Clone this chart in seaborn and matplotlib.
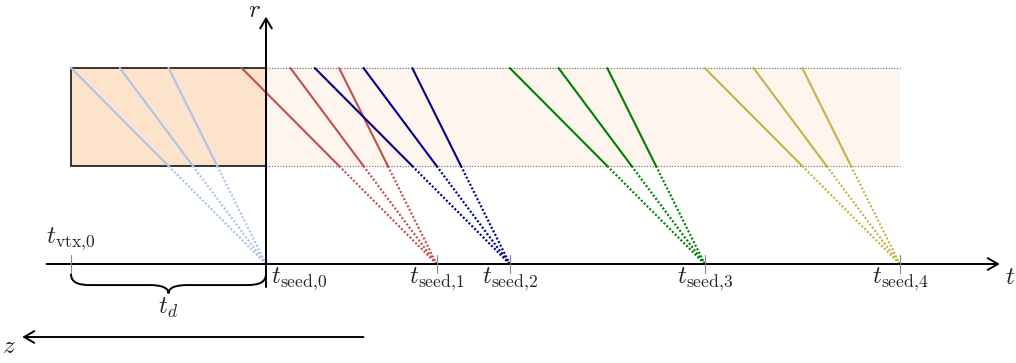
import numpy as np
import pandas as pd
import matplotlib
matplotlib.use("Agg")
import matplotlib.pyplot as plt
from matplotlib.path import Path
from matplotlib.patches import PathPatch, Rectangle
import seaborn as sns

# ---- geometry of the timing picture (t horizontal, r vertical) ----
t_seeds = [0.0, 3.5, 5.0, 9.0, 13.0]          # seed times on the t axis
seed_labels = [r"$t_{\mathrm{seed}{,}%d}$" % i for i in range(5)]
t_d = 4.0                                       # delay between vertex and first seed
track_offsets = [4.0, 3.0, 2.0]                 # t offset of each track at the outer radius
r_inner = 2.0
r_outer = 4.0
t_band_end = 13.0
seed_colors = ["#aac4ea", "#c0504d", "#00008b", "#008000", "#c4b24a"]

t_axis_range = (-4.5, 15.05)
r_axis_range = (-0.47, 5.05)
z_arrow = (2.0, -5.0)
z_level = -1.49

sns.set_theme(style="white")
plt.rcParams["mathtext.fontset"] = "cm"
plt.rcParams["font.family"] = ["DejaVu Serif"]

fig = plt.figure(figsize=(10.16, 3.63), dpi=100)
ax = fig.add_axes([0, 0, 1, 1])
px_t, px_r = 48.75, 49.0
ax.set_xlim(-266 / px_t, 750 / px_t)
ax.set_ylim(-99 / px_r, 264 / px_r)
ax.axis("off")

# detector layer: dense block before the first seed, light band after it
t_vtx = t_seeds[0] - t_d
ax.add_patch(Rectangle((t_vtx, r_inner), t_d, r_outer - r_inner,
                       facecolor="#fde3cb", edgecolor="black", lw=1.1, zorder=1))
ax.add_patch(Rectangle((t_seeds[0], r_inner), t_band_end - t_seeds[0], r_outer - r_inner,
                       facecolor="#fef5ee", edgecolor="none", zorder=0))
for rr in (r_inner, r_outer):
    ax.plot([t_seeds[0], t_band_end], [rr, rr], color="#666666", lw=0.8,
            linestyle=(0, (1, 1.5)), zorder=1)

# track segments: solid inside the layer, dotted from the inner radius to the seed
rows = []
for k, ts in enumerate(t_seeds):
    for j, off in enumerate(track_offsets):
        t_out = ts - off
        slope = off / r_outer
        t_in = ts - slope * r_inner
        rows += [
            dict(seed=k, track=f"{k}-{j}", part="solid", t=t_out, r=r_outer),
            dict(seed=k, track=f"{k}-{j}", part="solid", t=t_in, r=r_inner),
            dict(seed=k, track=f"{k}-{j}", part="dotted", t=t_in, r=r_inner),
            dict(seed=k, track=f"{k}-{j}", part="dotted", t=ts, r=0.0),
        ]
df = pd.DataFrame(rows)
palette = dict(enumerate(seed_colors))

sns.lineplot(data=df[df.part == "solid"], x="t", y="r", hue="seed", units="track",
             estimator=None, sort=False, palette=palette, lw=1.5, legend=False,
             ax=ax, zorder=3)
sns.lineplot(data=df[df.part == "dotted"], x="t", y="r", hue="seed", units="track",
             estimator=None, sort=False, palette=palette, lw=1.6, legend=False,
             linestyle=(0, (0.9, 0.9)), ax=ax, zorder=3)

# axes arrows
arrow_kw = dict(arrowstyle="->,head_length=0.6,head_width=0.35", lw=1.4,
                color="black", shrinkA=0, shrinkB=0)
ax.annotate("", xy=(t_axis_range[1], 0), xytext=(t_axis_range[0], 0),
            arrowprops=arrow_kw, zorder=5)
ax.annotate("", xy=(0, r_axis_range[1]), xytext=(0, r_axis_range[0]),
            arrowprops=arrow_kw, zorder=5)
ax.annotate("", xy=(z_arrow[1], z_level), xytext=(z_arrow[0], z_level),
            arrowprops=arrow_kw, zorder=5)

# tick marks
for ts in [t_vtx] + t_seeds[1:]:
    ax.plot([ts, ts], [-0.18, 0.18], color="#888888", lw=0.8, zorder=6)

fs = 18
ax.text(-0.24, 5.17, r"$r$", fontsize=fs, ha="center", va="center")
ax.text(15.26, -0.27, r"$t$", fontsize=fs, ha="center", va="center")
ax.text(z_arrow[1] - 0.27, z_level - 0.2, r"$z$", fontsize=fs, ha="center", va="center")
ax.text(t_vtx, 0.5, r"$t_{\mathrm{vtx}{,}0}$", fontsize=fs, ha="center", va="center")
ax.text(t_seeds[0] + 0.1, -0.31, seed_labels[0], fontsize=fs, ha="left", va="center")
for ts, lab in zip(t_seeds[1:], seed_labels[1:]):
    ax.text(ts, -0.31, lab, fontsize=fs, ha="center", va="center")
ax.text((t_vtx + t_seeds[0]) / 2, -0.9, r"$t_d$", fontsize=fs, ha="center", va="center")

# curly brace spanning the delay
a, b = t_vtx, t_seeds[0]
m = (a + b) / 2
top, mid, tip = -0.2, -0.43, -0.6
verts = [(a, top), (a, mid + 0.05), (a + 0.15, mid), (a + 0.4, mid),
         (m - 0.4, mid),
         (m - 0.15, mid), (m, mid - 0.05), (m, tip),
         (m, mid - 0.05), (m + 0.15, mid), (m + 0.4, mid),
         (b - 0.4, mid),
         (b - 0.15, mid), (b, mid + 0.05), (b, top)]
codes = [Path.MOVETO, Path.CURVE4, Path.CURVE4, Path.CURVE4,
         Path.LINETO,
         Path.CURVE4, Path.CURVE4, Path.CURVE4,
         Path.CURVE4, Path.CURVE4, Path.CURVE4,
         Path.LINETO,
         Path.CURVE4, Path.CURVE4, Path.CURVE4]
ax.add_patch(PathPatch(Path(verts, codes), facecolor="none", edgecolor="black",
                       lw=1.4, zorder=5))

fig.savefig("out.png", dpi=100)
